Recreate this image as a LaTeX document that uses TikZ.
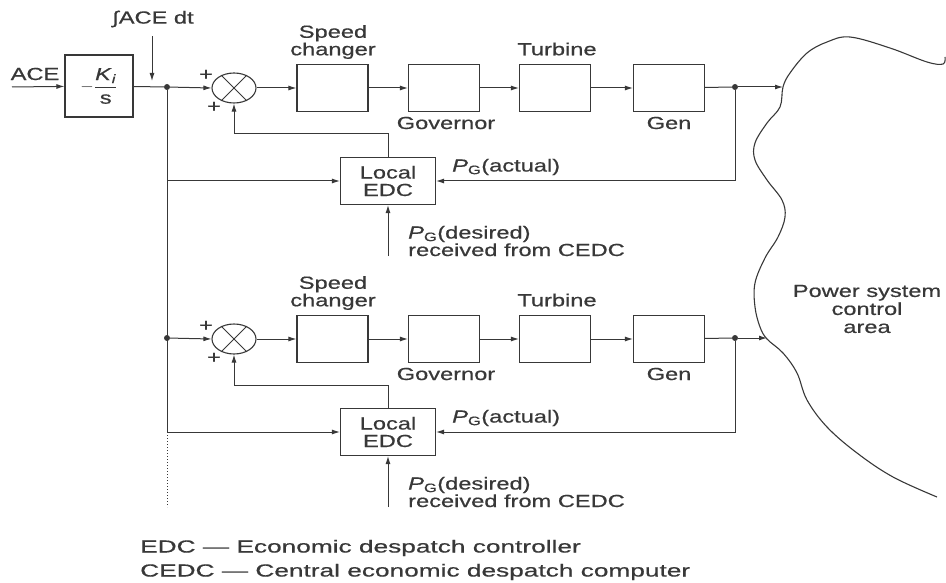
\documentclass[tikz,border=0pt]{standalone}
\usepackage{fontspec}
\setmainfont[FakeStretch=1.35,FakeBold=0.6]{Liberation Sans}
\newfontfamily\legendfont[FakeStretch=1.5,FakeBold=0.6]{Liberation Sans}
\usepackage{xcolor}
\usepackage{tikz}
\usetikzlibrary{arrows.meta,positioning,shapes.geometric,calc}

\definecolor{ink}{gray}{0.22}
\tikzset{
  blk/.style={draw=ink,line width=1.1pt,minimum width=71pt,minimum height=47pt,inner sep=0pt},
  edcbox/.style={draw=ink,line width=1.1pt,minimum width=95pt,minimum height=47pt,align=center,inner sep=0pt},
  sumnode/.style={ellipse,draw=ink,line width=1.1pt,minimum width=44pt,minimum height=30pt,inner sep=0pt},
  lbl/.style={inner sep=0pt},
  jdot/.style={circle,fill=ink,minimum size=6pt,inner sep=0pt},
  wire/.style={draw=ink,line width=1pt},
  sig/.style={wire,-{Latex[length=8pt,width=5pt]}},
}

\begin{document}
\begin{tikzpicture}[x=1pt,y=-1pt,text=ink,font=\fontsize{17.5}{17.5}\selectfont]
  \useasboundingbox (0,0) rectangle (946,583);

  % integral of ACE
  \node[lbl] (ace) at (35,74) {ACE};
  \coordinate (acein) at (12,87);
  \node[blk,minimum width=68pt,minimum height=62pt] (ki) at (99,86)
    {$\displaystyle -\frac{\mbox{\textit{K}\textsubscript{\textit{i}}}}{\mbox{s}}$};
  \node[lbl] (intace) at (153,19) {∫ACE dt};
  \coordinate (intin) at (152,81);
  \draw[sig] (acein) -- (ki);
  \draw[sig] ([yshift=-9pt]intace.south -| intin) -- (intin);

  % the two generating units
  \foreach \r/\yy/\hx in {1/87/783, 2/338/767}{
    \node[jdot] (jl\r) at (167,\yy) {};
    \node[sumnode] (sum\r) at (234,\yy+1) {};
    \draw[wire] (sum\r.45) -- (sum\r.225) (sum\r.135) -- (sum\r.315);
    \node[lbl] (pa\r) at (206,\yy-12) {+};
    \node[lbl] (pb\r) at (214,\yy+20) {+};
    \node[blk] (sc\r) at (332.5,\yy+1) {};
    \node[blk] (gv\r) at (444,\yy+1) {};
    \node[blk] (tb\r) at (555,\yy+1) {};
    \node[blk] (gn\r) at (669,\yy+1) {};
    \node[lbl,align=center] (scl\r) at (333,\yy-45) {Speed\\changer};
    \node[lbl] (tbl\r) at (557,\yy-38) {Turbine};
    \node[lbl] (gvl\r) at (446,\yy+36) {Governor};
    \node[lbl] (gnl\r) at (669,\yy+36) {Gen};
    \node[jdot] (jr\r) at (735,\yy) {};
    \coordinate (hit\r) at (\hx,\yy);
    \node[edcbox] (edc\r) at (388,\yy+94) {Local\\EDC};
    \coordinate (fb\r) at (234,\yy+47);
    \coordinate (des\r) at (388,\yy+169);
    \node[lbl,anchor=west] (act\r) at (452,\yy+80) {\textit{P}\textsubscript{G}(actual)};
    \node[lbl,anchor=west,align=left] (desl\r) at (408,\yy+154)
      {\textit{P}\textsubscript{G}(desired)\\received from CEDC};

    \draw[sig] (jl\r) -- (sum\r.west);
    \draw[sig] (sum\r) -- (sc\r);
    \draw[sig] (sc\r) -- (gv\r);
    \draw[sig] (gv\r) -- (tb\r);
    \draw[sig] (tb\r) -- (gn\r);
    \draw[wire] (gn\r) -- (jr\r);
    \draw[sig] (jr\r) -- (hit\r);
    \draw[sig] (jr\r) |- (edc\r.east);
    \draw[sig] (edc\r.north) |- (fb\r) -- (sum\r.south);
    \draw[sig] (des\r) -- (edc\r.south);
  }

  % common bus from the integrator
  \draw[wire] (ki) -- (jl1);
  \draw[sig] (jl1) |- (edc1.west);
  \draw[sig] (jl1) |- (edc2.west);
  \draw[wire,dotted] (jl1 |- edc2.west) -- ++(0,75);

  % power system area
  \draw[ink,line width=1.1pt] plot[smooth,tension=0.6] coordinates {
    (945,57) (943,64) (927,62) (890,48) (850,37) (827,42) (807,53) (790,73)
    (783,87) (780,107) (767,123) (755,143) (755,160) (767,180) (782,200)
    (785,217) (778,237) (765,258) (755,283) (755,307) (760,327) (767,339)
    (783,353) (797,373) (807,400) (827,427) (857,453) (893,477) (937,497)};
  \node[lbl,align=center,font=\fontsize{17.5}{18}\selectfont] (area) at (867,309)
    {Power system\\control\\area};

  % key
  \node[lbl,anchor=west,align=left,font=\legendfont\fontsize{17.5}{24}\selectfont] (key) at (140,560)
    {EDC — Economic despatch controller\\CEDC — Central economic despatch computer};
\end{tikzpicture}
\end{document}
